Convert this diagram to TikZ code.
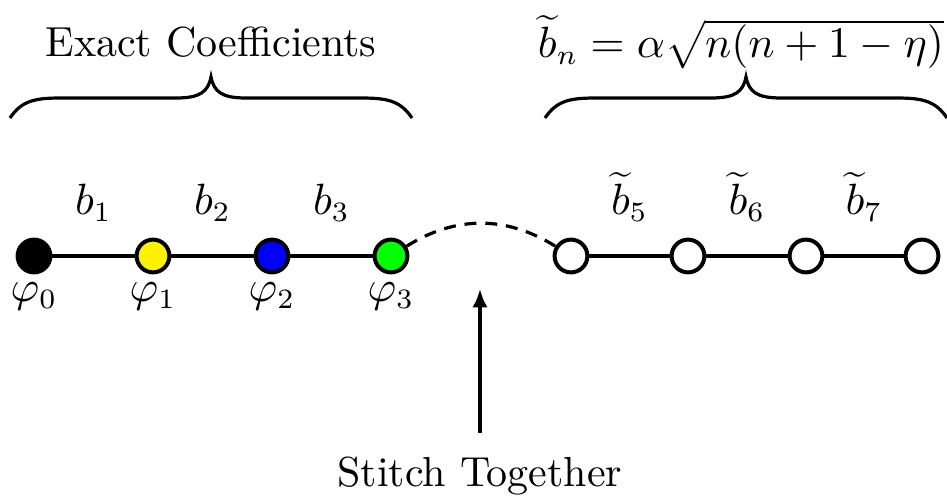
\documentclass[tikz,border=0pt]{standalone}
\usetikzlibrary{arrows.meta}
\begin{document}
\begin{tikzpicture}[x=0.25pt,y=-0.25pt,
  site/.style={circle,draw=black,line width=1pt,minimum size=8.2pt,inner sep=0pt},
  bond/.style={line width=0.8pt},
  lbl/.style={font=\fontsize{10.5}{12}\selectfont,inner sep=0pt},
  bracepath/.style={line width=0.8pt}]
\useasboundingbox (0,0) rectangle (947,502);
% nodes
\node[site,fill=black]  (p0) at (34,256) {};
\node[site,fill=yellow] (p1) at (153,256) {};
\node[site,fill=blue]   (p2) at (272,256) {};
\node[site,fill=green]  (p3) at (391,256) {};
\node[site,fill=white]  (q5) at (571,256) {};
\node[site,fill=white]  (q6) at (688,256) {};
\node[site,fill=white]  (q7) at (806,256) {};
\node[site,fill=white]  (q8) at (922,256) {};
% bonds
\draw[bond] (p0) -- (p1);
\draw[bond] (p1) -- (p2);
\draw[bond] (p2) -- (p3);
\draw[bond] (q5) -- (q6);
\draw[bond] (q6) -- (q7);
\draw[bond] (q7) -- (q8);
\draw[bond,dash pattern=on 3pt off 2.2pt] (p3) to[out=32,in=148] (q5);
% bond labels
\node[lbl,anchor=base] (b1) at (93.5,215) {$b_1$};
\node[lbl,anchor=base] (b2) at (212.5,215) {$b_2$};
\node[lbl,anchor=base] (b3) at (331.5,215) {$b_3$};
\node[lbl,anchor=base] (b5) at (629.5,215) {$\widetilde{b}_5$};
\node[lbl,anchor=base] (b6) at (747,215) {$\widetilde{b}_6$};
\node[lbl,anchor=base] (b7) at (864,215) {$\widetilde{b}_7$};
% site labels
\node[lbl,anchor=base] (f0) at (34,302) {$\varphi_0$};
\node[lbl,anchor=base] (f1) at (153,302) {$\varphi_1$};
\node[lbl,anchor=base] (f2) at (272,302) {$\varphi_2$};
\node[lbl,anchor=base] (f3) at (391,302) {$\varphi_3$};
% braces
\draw[bracepath] (10,118) .. controls (22,100) and (36,98) .. (62,98) -- (176,98)
  .. controls (200,98) and (208,92) .. (211,77)
  .. controls (214,92) and (222,98) .. (246,98) -- (360,98)
  .. controls (386,98) and (400,100) .. (412,118);
\draw[bracepath] (545,118) .. controls (557,100) and (571,98) .. (597,98) -- (711,98)
  .. controls (735,98) and (743,92) .. (746,77)
  .. controls (749,92) and (757,98) .. (781,98) -- (895,98)
  .. controls (921,98) and (935,100) .. (947,118);
\node[lbl,anchor=base] (exact) at (211,57) {Exact Coefficients};
\node[lbl,anchor=base] (formula) at (741,58) {$\widetilde{b}_n=\alpha\sqrt{n(n+1-\eta)}$};
% arrow
\node[lbl,anchor=base] (stitch) at (480,487) {Stitch Together};
\coordinate (tip) at (480,289);
\draw[line width=0.8pt,-{Latex[length=4.6pt,width=3.8pt]}] (480,433) -- (tip);
\end{tikzpicture}
\end{document}
